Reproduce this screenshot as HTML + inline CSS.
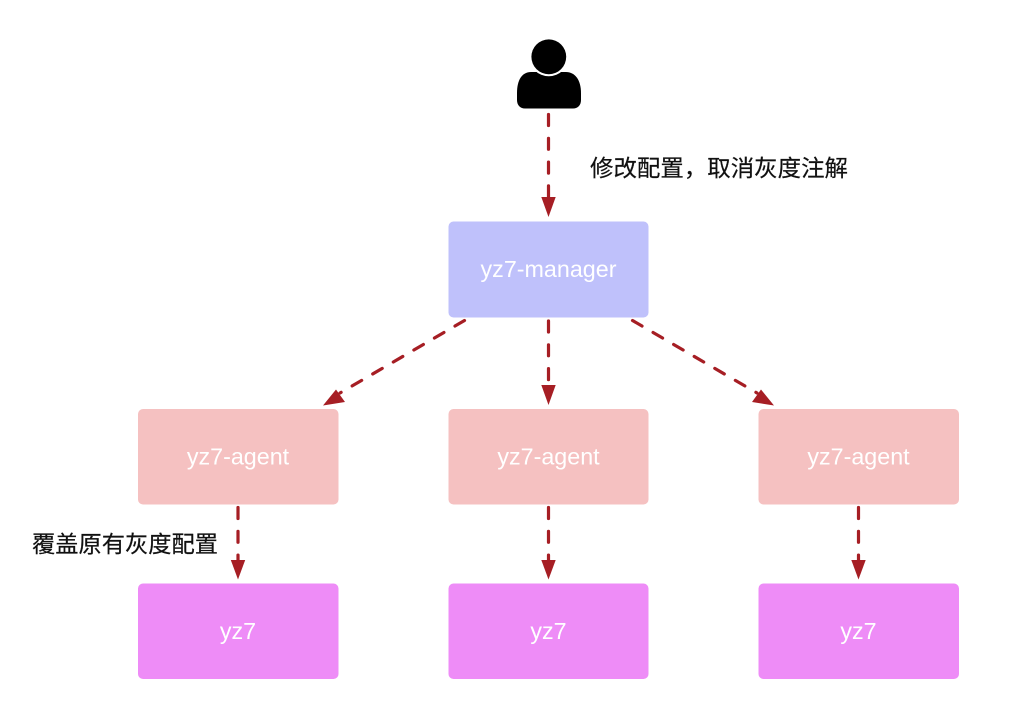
<!DOCTYPE html>
<html>
<head>
<meta charset="utf-8">
<style>
html,body{margin:0;padding:0;background:#fff;}
svg{display:block;}
.b{font-family:"Liberation Sans",sans-serif;font-size:23.3px;fill:#fff;text-anchor:middle;}
.c{font-family:"Liberation Sans","Noto Sans CJK SC",sans-serif;font-size:23px;fill:#111;stroke:#111;stroke-width:0.2px;}
.l{stroke:#a61e24;stroke-width:3.2;fill:none;stroke-dasharray:11 12.8;stroke-linecap:round;}
.a{fill:#a61e24;}
</style>
</head>
<body>
<svg width="1013" height="713" viewBox="0 0 1013 713" xmlns="http://www.w3.org/2000/svg">
<rect width="1013" height="713" fill="#fff"/>
<!-- person -->
<path d="M531 72 L566 72 C575 72 581 80 581 93 L581 100 C581 105 578 108.500 573 108.500 L525 108.500 C520 108.500 517 105 517 100 L517 93 C517 80 522 72 531 72 Z" fill="#000"/>
<circle cx="548.800" cy="56.500" r="19.800" fill="#fff"/>
<circle cx="548.800" cy="56.800" r="17.400" fill="#000"/>
<!-- boxes -->
<rect x="448.500" y="221.500" width="200" height="96" rx="5" fill="#bfc1fb"/>
<rect x="138" y="409" width="200.500" height="95.500" rx="5" fill="#f5c1c1"/>
<rect x="448.500" y="409" width="200" height="95.500" rx="5" fill="#f5c1c1"/>
<rect x="758.500" y="409" width="200.500" height="95.500" rx="5" fill="#f5c1c1"/>
<rect x="138" y="583.500" width="200.500" height="95.500" rx="5" fill="#ee8cf7"/>
<rect x="448.500" y="583.500" width="200" height="95.500" rx="5" fill="#ee8cf7"/>
<rect x="758.500" y="583.500" width="200.500" height="95.500" rx="5" fill="#ee8cf7"/>
<!-- box labels -->
<text class="b" x="548.500" y="277">yz7-manager</text>
<text class="b" x="238" y="464.500">yz7-agent</text>
<text class="b" x="548.500" y="464.500">yz7-agent</text>
<text class="b" x="858.500" y="464.500">yz7-agent</text>
<text class="b" x="238" y="639">yz7</text>
<text class="b" x="548.500" y="639">yz7</text>
<text class="b" x="858.500" y="639">yz7</text>
<!-- connectors -->
<path class="l" d="M548.500 114.500 V200"/>
<polygon class="a" points="541.300,197 555.700,197 548.500,217"/>
<path class="l" d="M464.500 320.500 L340 393"/>
<polygon class="a" points="336,389.500 345,402 323,405.500"/>
<path class="l" d="M548.500 321 V388"/>
<polygon class="a" points="541.300,385 555.700,385 548.500,405"/>
<path class="l" d="M632.500 320.500 L757 393"/>
<polygon class="a" points="761,389.500 752,402 774,405.500"/>
<path class="l" d="M238 507.500 V562"/>
<polygon class="a" points="230.800,560 245.200,560 238,579.500"/>
<path class="l" d="M548.500 507.500 V562"/>
<polygon class="a" points="541.300,560 555.700,560 548.500,579.500"/>
<path class="l" d="M858.500 507.500 V562"/>
<polygon class="a" points="851.300,560 865.700,560 858.500,579.500"/>
<!-- annotations -->
<text class="c" x="590" y="176" textLength="258" lengthAdjust="spacingAndGlyphs">修改配置，取消灰度注解</text>
<text class="c" x="32" y="552" textLength="186" lengthAdjust="spacingAndGlyphs">覆盖原有灰度配置</text>
</svg>
</body>
</html>
